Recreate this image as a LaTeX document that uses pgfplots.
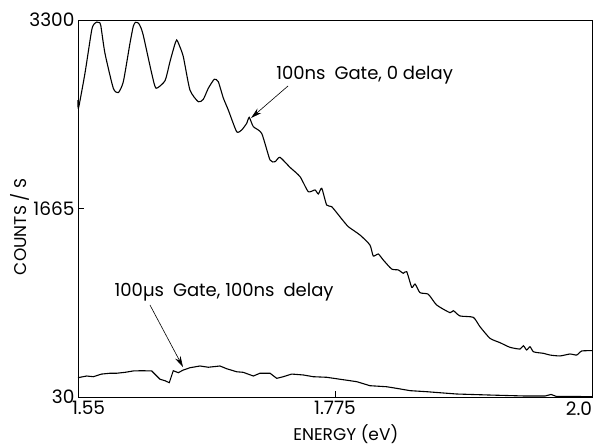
\documentclass[border=0pt]{standalone}
\usepackage{pgfplots}
\pgfplotsset{compat=1.18}
\usepackage{fontspec}
\setmainfont{Poppins}
\usetikzlibrary{calc,arrows.meta}

\begin{document}
\begin{tikzpicture}
\begin{axis}[
    scale only axis,
    width=514bp, height=377bp,
    xmin=1.55, xmax=2.0,
    ymin=30, ymax=3300,
    xtick={1.55,1.775,2.0},
    xticklabels={\rlap{\kern-6bp 1.55}, 1.775, \llap{2.0}},
    ytick={30,1665,3300},
    yticklabels={30,1665,3300},
    tick pos=left,
    major tick length=6bp,
    tick style={line width=0.9bp, black},
    axis line style={line width=0.9bp},
    every tick label/.append style={font=\fontsize{18.5bp}{20bp}\selectfont},
    xticklabel style={anchor=north, yshift=-1bp},
    yticklabel style={anchor=east, xshift=0bp},
    xlabel={ENERGY (eV)},
    ylabel={COUNTS / S},
    every axis x label/.style={at={(axis description cs:0.521,-0.099)}, anchor=center, font=\fontsize{17bp}{19bp}\selectfont},
    every axis y label/.style={at={(axis description cs:-0.113,0.451)}, rotate=90, anchor=center, font=\fontsize{17bp}{19bp}\selectfont},
    clip=false,
]
% 100 ns gate, 0 delay
\addplot[black, line width=1.1bp, smooth, tension=0.35] coordinates {
(1.5500,2606) (1.5504,2534) (1.5561,2838) (1.5620,3213) (1.5645,3270) (1.5664,3282)
(1.5685,3278) (1.5699,3255) (1.5736,3011) (1.5809,2708) (1.5853,2670) (1.5897,2765)
(1.5955,3098) (1.5985,3250) (1.6005,3280) (1.6030,3272) (1.6050,3235) (1.6072,3165) (1.6145,2838)
(1.6183,2708) (1.6262,2774) (1.6305,2938) (1.6345,3080) (1.6364,3127) (1.6385,3085) (1.6422,2982)
(1.6480,2693) (1.6553,2591) (1.6597,2612) (1.6641,2708) (1.6693,2786)
(1.6728,2765) (1.6772,2624) (1.6816,2519) (1.6889,2331) (1.6933,2346)
(1.6977,2404) (1.6999,2456) (1.7035,2375) (1.7108,2317) (1.7181,2086)
(1.7225,2071) (1.7268,2109) (1.7356,2022) (1.7444,1941) (1.7516,1811)
(1.7575,1826) (1.7604,1791) (1.7634,1840) (1.7677,1695) (1.7721,1681)
(1.7809,1574) (1.7867,1507) (1.7969,1435) (1.8056,1348) (1.8085,1253)
(1.8129,1270) (1.8173,1218) (1.8246,1140) (1.8304,1132) (1.8348,1103)
(1.8378,1117) (1.8422,981) (1.8451,1010) (1.8494,935) (1.8567,921)
(1.8640,828) (1.8757,761) (1.8786,779) (1.8844,733) (1.8961,721)
(1.9019,640) (1.9107,539) (1.9195,501) (1.9282,461) (1.9370,446)
(1.9399,475) (1.9428,438) (1.9457,466) (1.9486,423) (1.9530,414)
(1.9574,409) (1.9632,394) (1.9720,386) (1.9807,403) (1.9866,394)
(1.9910,429) (2.0000,432)
};
% 100 us gate, 100 ns delay
\addplot[black, line width=1.1bp] coordinates {
(1.5500,195) (1.5518,201) (1.5576,212) (1.5634,206) (1.5707,229)
(1.5780,236) (1.5839,236) (1.5911,244) (1.5984,256) (1.6058,258)
(1.6145,256) (1.6218,184) (1.6262,171) (1.6299,154) (1.6334,258)
(1.6378,241) (1.6422,264) (1.6481,284) (1.6568,299) (1.6641,288)
(1.6743,299) (1.6802,275) (1.6889,249) (1.6947,244) (1.7035,212)
(1.7093,236) (1.7181,236) (1.7240,192) (1.7297,206) (1.7371,229)
(1.7473,221) (1.7560,206) (1.7677,201) (1.7794,184) (1.7940,163)
(1.8056,128) (1.8203,119) (1.8290,105) (1.8407,85) (1.8553,76)
(1.8669,67) (1.8815,56) (1.9107,47) (1.9399,39) (1.9590,39)
(1.9642,52) (1.9685,36) (2.0000,33)
};
\node[anchor=west, font=\fontsize{18bp}{20bp}\selectfont] at (axis cs:1.7205,2823) {100ns\enspace Gate, 0 delay};
\draw[-{Stealth[length=11bp,width=6bp]}, line width=0.6bp] (axis cs:1.7339,2728) -- (axis cs:1.7015,2450);
\node[anchor=west, font=\fontsize{18bp}{20bp}\selectfont] at (axis cs:1.5790,941) {100µs\enspace Gate, 100ns\enspace delay};
\draw[-{Stealth[length=11bp,width=6bp]}, line width=0.6bp] (axis cs:1.6130,828) -- (axis cs:1.6419,290);
\end{axis}
\pgfresetboundingbox
\path[use as bounding box] ($(current axis.south west)+(-78bp,-50bp)$) rectangle ($(current axis.north east)+(10bp,20bp)$);
\end{tikzpicture}
\end{document}
